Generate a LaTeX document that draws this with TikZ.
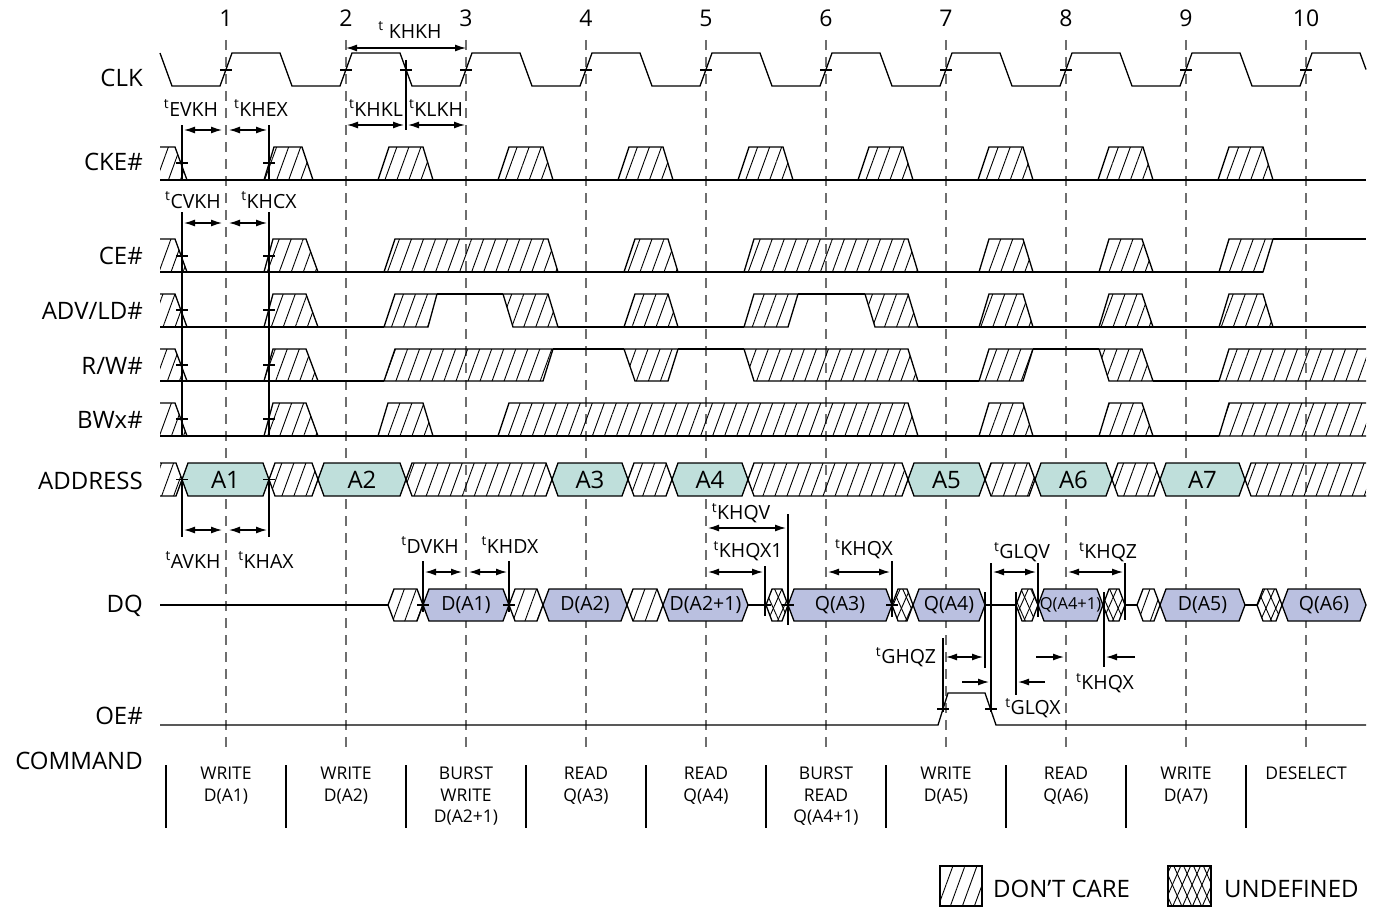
\documentclass[tikz,border=0pt]{standalone}
\usepackage{fontspec}
\setmainfont{Open Sans}
\usetikzlibrary{arrows.meta,patterns.meta}
\definecolor{addrfill}{RGB}{191,223,219}
\definecolor{dqfill}{RGB}{186,192,224}
\definecolor{dashgray}{RGB}{110,110,110}
\tikzset{
  sig/.style={line width=1.3pt, line join=miter},
  hatchfill/.style={pattern={Lines[angle=70,distance=11.3pt,line width=0.9pt]}},
  dc/.style={sig, hatchfill},
  undeffill/.style={preaction={pattern={Lines[angle=66,distance=9pt,line width=0.9pt]}}, pattern={Lines[angle=114,distance=9pt,line width=0.9pt]}},
  undef/.style={sig, undeffill},
  addr/.style={sig, fill=addrfill},
  dq/.style={sig, fill=dqfill},
  edgeline/.style={dashgray, line width=1.2pt, dash pattern=on 10pt off 7pt},
  tline/.style={line width=1.3pt},
  tick/.style={line width=1.3pt},
  tarr/.style={line width=1.3pt, {Latex[length=11pt,width=7pt]}-{Latex[length=11pt,width=7pt]}},
  rarr/.style={line width=1.3pt, -{Latex[length=11pt,width=7pt]}},
  rowlab/.style={anchor=east, inner sep=0pt, font=\fontsize{24}{28}\selectfont},
  numlab/.style={inner sep=0pt, font=\fontsize{23}{26}\selectfont},
  tlab/.style={inner sep=0pt, font=\fontsize{19.5}{22}\selectfont},
  alab/.style={inner sep=0pt, font=\fontsize{24}{27}\selectfont},
  dlab/.style={inner sep=0pt, font=\fontsize{19.5}{22}\selectfont},
  cmd/.style={inner sep=0pt, anchor=north, align=center, font=\fontsize{17.5}{21.5}\selectfont},
  leg/.style={inner sep=0pt, anchor=west, font=\fontsize{24}{28}\selectfont},
}
% bus segment: style, x1, x2 (uses \yt \yb \ym)
\newcommand\hexseg[3]{\draw[#1] (#2,\ym) -- ({#2+6},\yt) -- ({#3-6},\yt) -- (#3,\ym) -- ({#3-6},\yb) -- ({#2+6},\yb) -- cycle;}
% first clipped don't care on a control row: H, L
\newcommand\firstdc[2]{\fill[hatchfill] (160,#1) -- (175,#1) -- (187,#2) -- (160,#2) -- cycle;
  \draw[sig] (160,#1) -- (175,#1) -- (187,#2);}
\newcommand\tk[2]{\draw[tick] ({#1-6},#2) -- ({#1+6},#2);}
\newcommand\tlab[3]{\node[tlab] (#1) at (#2) {\textsuperscript{t}#3};}
\begin{document}
\begin{tikzpicture}[x=1pt,y=-1pt]
\useasboundingbox (0,0) rectangle (1374,907);

% clock edge dashed lines and numbers
\foreach \i in {1,...,10} {
  \pgfmathsetmacro\ex{226+120*(\i-1)}
  \draw[edgeline] (\ex,40) -- (\ex,750);
  \node[numlab] (n\i) at (\ex,18) {\i};
}

% row labels
\node[rowlab] (lclk) at (143,78) {CLK};
\node[rowlab] (lcke) at (143,162) {CKE\#};
\node[rowlab] (lce) at (143,256) {CE\#};
\node[rowlab] (ladv) at (143,311) {ADV/LD\#};
\node[rowlab] (lrw) at (143,366) {R/W\#};
\node[rowlab] (lbw) at (143,420) {BWx\#};
\node[rowlab] (laddr) at (143,481) {ADDRESS};
\node[rowlab] (ldq) at (143,606) {DQ};
\node[rowlab] (loe) at (143,716) {OE\#};
\node[rowlab] (lcmd) at (143,761) {COMMAND};

% CLK
\draw[sig] (160,53) -- (172,86)
  \foreach \e in {226,346,...,1186} { -- ({\e-6},86) -- ({\e+6},53) -- ({\e+54},53) -- ({\e+66},86) }
  -- (1300,86) -- (1312,53) -- (1360,53) -- (1366,69.5);
\foreach \e in {226,346,...,1306} {\tk{\e}{70}}
\tk{406}{70}

% CKE#
\firstdc{147}{180}
\draw[sig] (160,180) -- (1366,180);
\draw[dc] (264,180) -- (274,147) -- (302,147) -- (313,180) -- cycle;
\foreach \e in {346,466,...,1186} {\draw[dc] ({\e+32},180) -- ({\e+43},147) -- ({\e+77},147) -- ({\e+87},180) -- cycle;}

% CE#
\firstdc{239}{272}
\draw[sig] (160,272) -- (1263,272);
\draw[sig] (1273,239) -- (1366,239);
\draw[dc] (264,272) -- (273,239) -- (306,239) -- (318,272) -- cycle;
\draw[dc] (384,272) -- (395,239) -- (548,239) -- (558,272) -- cycle;
\draw[dc] (624,272) -- (635,239) -- (668,239) -- (678,272) -- cycle;
\draw[dc] (744,272) -- (754,239) -- (908,239) -- (918,272) -- cycle;
\draw[dc] (979,272) -- (989,239) -- (1023,239) -- (1033,272) -- cycle;
\draw[dc] (1099,272) -- (1109,239) -- (1142,239) -- (1153,272) -- cycle;
\draw[dc] (1219,272) -- (1229,239) -- (1273,239) -- (1263,272) -- cycle;

% ADV/LD#
\firstdc{294}{327}
\draw[sig] (160,327) -- (384,327);
\draw[sig] (437,294) -- (503,294);
\draw[sig] (558,327) -- (744,327);
\draw[sig] (798,294) -- (865,294);
\draw[sig] (918,327) -- (1366,327);
\draw[dc] (264,327) -- (273,294) -- (306,294) -- (318,327) -- cycle;
\draw[dc] (384,327) -- (395,294) -- (437,294) -- (428,327) -- cycle;
\draw[dc] (503,294) -- (548,294) -- (558,327) -- (513,327) -- cycle;
\draw[dc] (624,327) -- (635,294) -- (668,294) -- (678,327) -- cycle;
\draw[dc] (744,327) -- (754,294) -- (798,294) -- (788,327) -- cycle;
\draw[dc] (865,294) -- (908,294) -- (918,327) -- (875,327) -- cycle;
\draw[dc] (979,327) -- (989,294) -- (1023,294) -- (1033,327) -- cycle;
\draw[dc] (1099,327) -- (1109,294) -- (1142,294) -- (1153,327) -- cycle;
\draw[dc] (1219,327) -- (1229,294) -- (1263,294) -- (1273,327) -- cycle;

% R/W#
\firstdc{349}{381}
\draw[sig] (160,381) -- (384,381);
\draw[sig] (553,349) -- (624,349);
\draw[sig] (678,349) -- (744,349);
\draw[sig] (918,381) -- (979,381);
\draw[sig] (1033,349) -- (1099,349);
\draw[sig] (1153,381) -- (1219,381);
\draw[dc] (264,381) -- (273,349) -- (306,349) -- (318,381) -- cycle;
\draw[dc] (384,381) -- (395,349) -- (553,349) -- (543,381) -- cycle;
\draw[dc] (624,349) -- (678,349) -- (668,381) -- (635,381) -- cycle;
\draw[dc] (744,349) -- (908,349) -- (918,381) -- (754,381) -- cycle;
\draw[dc] (979,381) -- (989,349) -- (1033,349) -- (1023,381) -- cycle;
\draw[dc] (1099,349) -- (1142,349) -- (1153,381) -- (1109,381) -- cycle;
\fill[hatchfill] (1219,381) -- (1229,349) -- (1366,349) -- (1366,381) -- cycle;
\draw[sig] (1366,381) -- (1219,381) -- (1229,349) -- (1366,349);

% BWx#
\firstdc{403}{436}
\draw[sig] (160,436) -- (1219,436);
\draw[dc] (264,436) -- (273,403) -- (306,403) -- (318,436) -- cycle;
\draw[dc] (378,436) -- (388,403) -- (423,403) -- (433,436) -- cycle;
\draw[dc] (498,436) -- (509,403) -- (908,403) -- (918,436) -- cycle;
\draw[dc] (979,436) -- (989,403) -- (1023,403) -- (1033,436) -- cycle;
\draw[dc] (1099,436) -- (1109,403) -- (1142,403) -- (1153,436) -- cycle;
\fill[hatchfill] (1219,436) -- (1229,403) -- (1366,403) -- (1366,436) -- cycle;
\draw[sig] (1366,436) -- (1219,436) -- (1229,403) -- (1366,403);

% ADDRESS
\def\yt{463}\def\yb{496}\def\ym{479.5}
\fill[hatchfill] (160,463) -- (176,463) -- (182,479.5) -- (176,496) -- (160,496) -- cycle;
\draw[sig] (160,463) -- (176,463) -- (182,479.5) -- (176,496) -- (160,496);
\hexseg{addr}{182}{269}
\hexseg{dc}{269}{318}
\hexseg{addr}{318}{406}
\hexseg{dc}{406}{552}
\hexseg{addr}{552}{628}
\hexseg{dc}{628}{672}
\hexseg{addr}{672}{748}
\hexseg{dc}{748}{908}
\hexseg{addr}{908}{985}
\hexseg{dc}{985}{1035}
\hexseg{addr}{1035}{1112}
\hexseg{dc}{1112}{1160}
\hexseg{addr}{1160}{1245}
\fill[hatchfill] (1245,479.5) -- (1251,463) -- (1366,463) -- (1366,496) -- (1251,496) -- cycle;
\draw[sig] (1366,463) -- (1251,463) -- (1245,479.5) -- (1251,496) -- (1366,496);
\node[alab] (a1) at (225.5,480) {A1};
\node[alab] (a2) at (362,480) {A2};
\node[alab] (a3) at (590,480) {A3};
\node[alab] (a4) at (710,480) {A4};
\node[alab] (a5) at (946.5,480) {A5};
\node[alab] (a6) at (1073.5,480) {A6};
\node[alab] (a7) at (1202.5,480) {A7};

% DQ
\def\yt{589}\def\yb{621}\def\ym{605}
\draw[sig] (160,605) -- (388,605);
\hexseg{dc}{388}{423}
\hexseg{dq}{423}{509}
\hexseg{dc}{509}{543}
\hexseg{dq}{543}{627}
\hexseg{dc}{627}{663}
\hexseg{dq}{663}{748}
\draw[sig] (748,605) -- (766,605);
\hexseg{undef}{766}{788}
\hexseg{dq}{788}{892}
\hexseg{undef}{892}{913}
\hexseg{dq}{913}{985}
\draw[sig] (985,605) -- (1016,605);
\hexseg{undef}{1016}{1038}
\hexseg{dq}{1038}{1103}
\hexseg{undef}{1103}{1125}
\draw[sig] (1125,605) -- (1137,605);
\hexseg{dc}{1137}{1160}
\hexseg{dq}{1160}{1245}
\draw[sig] (1245,605) -- (1257,605);
\hexseg{undef}{1257}{1282}
\hexseg{dq}{1282}{1366}
\node[dlab] (d1) at (466,605) {D(A1)};
\node[dlab] (d2) at (585,605) {D(A2)};
\node[dlab] (d3) at (705.5,605) {D(A2+1)};
\node[dlab] (q3) at (840,605) {Q(A3)};
\node[dlab] (q4) at (949,605) {Q(A4)};
\node[inner sep=0pt, font=\fontsize{16.5}{19}\selectfont] (q5) at (1070.5,605) {Q(A4+1)};
\node[dlab] (d5) at (1202.5,605) {D(A5)};
\node[dlab] (q6) at (1324,605) {Q(A6)};

% OE#
\draw[sig] (160,725) -- (938,725) -- (948,693) -- (985,693) -- (996,725) -- (1366,725);
\tk{943}{709}
\tk{991}{709}

% timing vertical lines
\draw[tline] (182,125) -- (182,180);
\draw[tline] (269,125) -- (269,180);
\draw[tline] (406,60) -- (406,130);
\draw[tline] (182,212) -- (182,437);
\draw[tline] (269,212) -- (269,437);
\draw[tline] (182,479) -- (182,537);
\draw[tline] (269,479) -- (269,537);
\draw[tline] (423,561) -- (423,612);
\draw[tline] (509,561) -- (509,612);
\draw[tline] (788,514) -- (788,625);
\draw[tline] (765,566) -- (765,616);
\draw[tline] (892,561) -- (892,617);
\draw[tline] (991,563) -- (991,712);
\draw[tline] (1038,563) -- (1038,617);
\draw[tline] (1125,563) -- (1125,620);
\draw[tline] (985,592) -- (985,668);
\draw[tline] (1016,592) -- (1016,695);
\draw[tline] (1104,592) -- (1104,667);
\draw[tline] (943,638) -- (943,712);

% ticks
\foreach \yy in {163,256,310,365,419,479.5} {\tk{182}{\yy}\tk{269}{\yy}}
\tk{423}{605}\tk{509}{605}\tk{765}{605}\tk{788}{605}\tk{892}{605}

% timing arrows
\draw[tarr] (346,48) -- (466,48);
\draw[tarr] (184,130) -- (222,130);
\draw[tarr] (229,130) -- (267,130);
\draw[tarr] (347,125) -- (404,125);
\draw[tarr] (408,125) -- (465,125);
\draw[tarr] (184,223) -- (222,223);
\draw[tarr] (229,223) -- (267,223);
\draw[tarr] (184,530) -- (222,530);
\draw[tarr] (229,530) -- (267,530);
\draw[tarr] (425,572) -- (462,572);
\draw[tarr] (469,572) -- (507,572);
\draw[tarr] (708,528) -- (786,528);
\draw[tarr] (708,572) -- (763,572);
\draw[tarr] (828,572) -- (890,572);
\draw[tarr] (993,572) -- (1036,572);
\draw[tarr] (1068,572) -- (1123,572);
\draw[tarr] (946,657) -- (983,657);
\draw[rarr] (962,682) -- (989,682);
\draw[rarr] (1045,682) -- (1018,682);
\draw[rarr] (1036,657) -- (1064,657);
\draw[rarr] (1135,657) -- (1106,657);

% timing labels
\node[tlab] (tkhkh) at (410,30) {\textsuperscript{t} KHKH};
\tlab{tevkh}{191,108}{EVKH}
\tlab{tkhex}{261,108}{KHEX}
\tlab{tkhkl}{376,108}{KHKL}
\tlab{tklkh}{436,108}{KLKH}
\tlab{tcvkh}{193,200}{CVKH}
\tlab{tkhcx}{269,200}{KHCX}
\tlab{tavkh}{193,560}{AVKH}
\tlab{tkhax}{266,560}{KHAX}
\tlab{tdvkh}{430,545}{DVKH}
\tlab{tkhdx}{510,545}{KHDX}
\tlab{tkhqv}{741,513}{KHQV}
\tlab{tkhqxa}{748,551}{KHQX1}
\tlab{tkhqxb}{864,549}{KHQX}
\tlab{tglqv}{1022,552}{GLQV}
\tlab{tkhqz}{1108,552}{KHQZ}
\tlab{tghqz}{906,657}{GHQZ}
\tlab{tkhqxc}{1105,683}{KHQX}
\tlab{tglqx}{1033,708}{GLQX}

% COMMAND row
\foreach \k in {0,...,9} {\draw[tline] ({166+120*\k},765) -- ({166+120*\k},828);}
\node[cmd] (c1) at (226,767) {WRITE\\D(A1)};
\node[cmd] (c2) at (346,767) {WRITE\\D(A2)};
\node[cmd] (c3) at (466,767) {BURST\\WRITE\\D(A2+1)};
\node[cmd] (c4) at (586,767) {READ\\Q(A3)};
\node[cmd] (c5) at (706,767) {READ\\Q(A4)};
\node[cmd] (c6) at (826,767) {BURST\\READ\\Q(A4+1)};
\node[cmd] (c7) at (946,767) {WRITE\\D(A5)};
\node[cmd] (c8) at (1066,767) {READ\\Q(A6)};
\node[cmd] (c9) at (1186,767) {WRITE\\D(A7)};
\node[cmd] (c10) at (1306,767) {DESELECT};

% legend
\draw[sig, hatchfill] (940,866) rectangle (982,906);
\node[leg] (ldc) at (993,889) {DON’T CARE};
\draw[sig, undeffill] (1168,866) rectangle (1211,906);
\node[leg] (lud) at (1224,889) {UNDEFINED};
\end{tikzpicture}
\end{document}
